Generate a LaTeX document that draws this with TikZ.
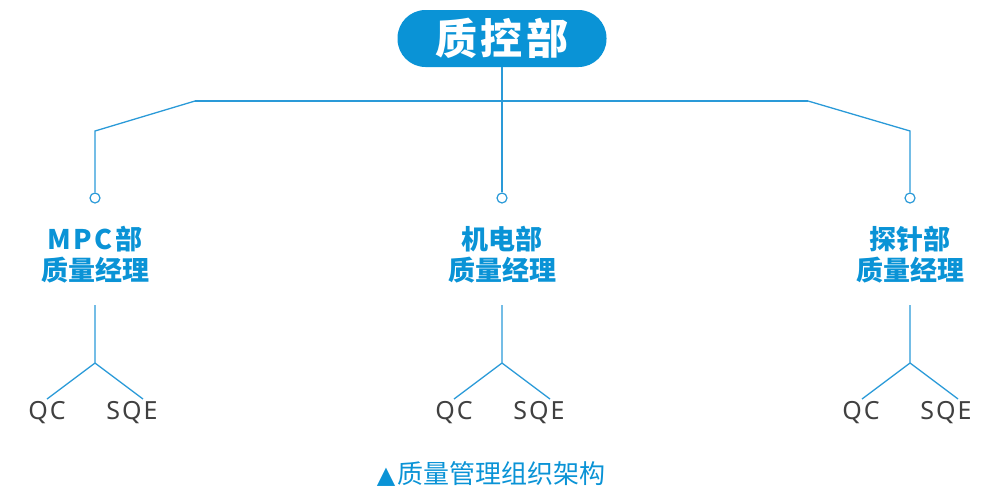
\documentclass[tikz,border=0pt]{standalone}
\usepackage{fontspec}
\setmainfont{Noto Sans CJK SC}
\newfontfamily\cjk{Noto Sans CJK SC}
\newfontfamily\latinf{Noto Sans}
\definecolor{qblue}{HTML}{0A93D6}
\definecolor{lblue}{HTML}{2A9AD8}
\definecolor{tgrey}{HTML}{404040}
\begin{document}
\begin{tikzpicture}[x=1pt,y=-1pt,
  conn/.style={draw=lblue,line width=1.3pt},
  dot/.style={circle,draw=lblue,line width=1.2pt,fill=white,minimum size=10pt,inner sep=0pt},
  dept/.style={text=qblue,font=\cjk\bfseries\fontsize{27}{31}\selectfont,align=center},
  leaf/.style={text=tgrey,font=\latinf\fontsize{25}{28}\selectfont,inner sep=0pt}]
\useasboundingbox (0,0) rectangle (992,490);
\node[fill=qblue,rounded corners=28pt,minimum width=209pt,minimum height=57pt,text=white,font=\cjk\bfseries\fontsize{42}{44}\selectfont] (top) at (502,38.5) {\addfontfeatures{LetterSpace=8}质控部};
\coordinate (hub) at (502,101);
\coordinate (hl) at (195,101);
\coordinate (hr) at (808,101);
\coordinate (bl) at (95,131);
\coordinate (br) at (910,131);
\node[dot] (dl) at (95,198) {};
\node[dot] (dm) at (502,198) {};
\node[dot] (dr) at (910,198) {};
\draw[conn] (top.south) -- (hub);
\draw[conn] (hl) -- (hr);
\draw[conn] (hl) -- (bl) -- (dl);
\draw[conn] (hr) -- (br) -- (dr);
\draw[conn] (hub) -- (dm);
\node[dept] (nl) at (95,255) {\addfontfeatures{LetterSpace=10}MPC部\\质量经理};
\node[dept] (nm) at (502,255) {机电部\\质量经理};
\node[dept] (nr) at (910,255) {探针部\\质量经理};
\foreach \n/\x/\q/\s in {l/95/47/132, m/502/454/539, r/910/861/946}{
  \coordinate (t\n) at (\x,305);
  \coordinate (j\n) at (\x,363);
  \coordinate (a\n) at (\x-48,399);
  \coordinate (b\n) at (\x+48,399);
  \draw[conn] (t\n) -- (j\n) -- (a\n);
  \draw[conn] (j\n) -- (b\n);
  \node[leaf] (q\n) at (\q,413) {\addfontfeatures{LetterSpace=8}QC};
  \node[leaf] (s\n) at (\s,413) {\addfontfeatures{LetterSpace=8}SQE};
}
\node[text=qblue,font=\cjk\fontsize{26}{28}\selectfont,inner sep=0pt] (cap) at (491,474) {{\fontspec{DejaVu Sans}\fontsize{24}{26}\selectfont ▲}\kern2pt 质量管理组织架构};
\end{tikzpicture}
\end{document}
